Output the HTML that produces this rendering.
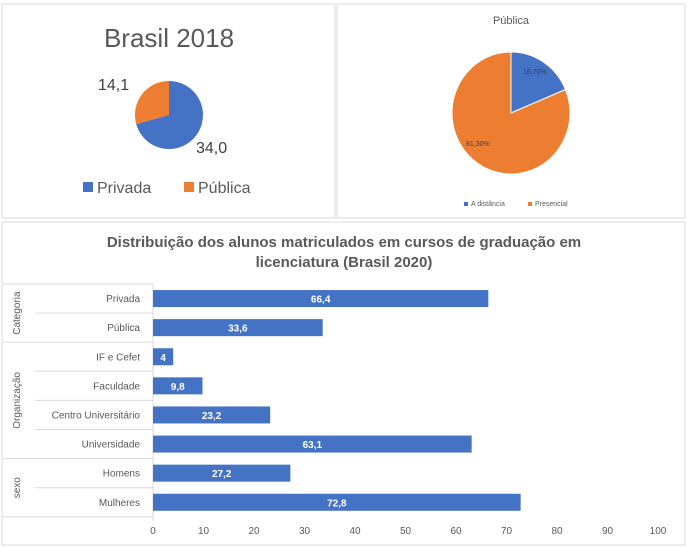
<!DOCTYPE html>
<html><head><meta charset="utf-8"><style>
body{margin:0;width:688px;height:547px;background:#fff;font-family:"Liberation Sans",sans-serif;overflow:hidden}
svg{position:absolute;left:0;top:0}
</style></head><body>
<svg width="688" height="547">
<rect x="2" y="4" width="333" height="214" fill="#fff" stroke="#d9d9d9"/>
<rect x="337" y="4" width="348" height="214" fill="#fff" stroke="#d9d9d9"/>
<rect x="2" y="222" width="683" height="323" fill="#fff" stroke="#d9d9d9"/>
<text x="169" y="47" font-size="26" fill="#595959" text-anchor="middle">Brasil 2018</text>
<g id="pie1"></g>
<text x="98" y="90" font-size="16" fill="#404040">14,1</text>
<text x="196" y="153" font-size="16" fill="#404040">34,0</text>
<rect x="83" y="182" width="10" height="10" fill="#4472c4"/>
<text x="97" y="193" font-size="16" fill="#595959">Privada</text>
<rect x="184" y="182" width="10" height="10" fill="#ed7d31"/>
<text x="198" y="193" font-size="16" fill="#595959">Pública</text>
<text x="511" y="24" font-size="11" fill="#595959" text-anchor="middle">Pública</text>
<g id="pie2"></g>
<text x="523" y="74" font-size="7" fill="#404040">18,70%</text>
<text x="466" y="146" font-size="7" fill="#404040">81,30%</text>
<rect x="464" y="202" width="4" height="4" fill="#4472c4"/>
<text x="471" y="206" font-size="7" fill="#595959">A distância</text>
<rect x="528" y="202" width="4" height="4" fill="#ed7d31"/>
<text x="535" y="206" font-size="7" fill="#595959">Presencial</text>
<text x="344" y="247" font-size="15" font-weight="bold" fill="#595959" text-anchor="middle">Distribuição dos alunos matriculados em cursos de graduação em</text>
<text x="344" y="267" font-size="15" font-weight="bold" fill="#595959" text-anchor="middle">licenciatura (Brasil 2020)</text>
<g id="bars"></g>
</svg>
<script>
const pie1Labels=["Privada","Pública"];
const pie1Values=[34.0,14.1];
const pie2Labels=["A distância","Presencial"];
const pie2Values=[18.7,81.3];
const categories=["Privada","Pública","IF e Cefet","Faculdade","Centro Universitário","Universidade","Homens","Mulheres"];
const values=[66.4,33.6,4,9.8,23.2,63.1,27.2,72.8];
const valueLabels=["66,4","33,6","4","9,8","23,2","63,1","27,2","72,8"];
const groups=["Categoria","Organização","sexo"];
const groupSizes=[2,4,2];
const ticks=[0,10,20,30,40,50,60,70,80,90,100];
const NS="http://www.w3.org/2000/svg";
function mk(tag,attrs,parent){const e=document.createElementNS(NS,tag);for(const k in attrs)e.setAttribute(k,attrs[k]);parent.appendChild(e);return e;}
function pie(g,cx,cy,rx,ry,vals,cols,names,stroke){
  const tot=vals.reduce((a,b)=>a+b,0);let a0=-Math.PI/2;
  vals.forEach((v,i)=>{const a1=a0+v/tot*2*Math.PI;
    const large=(a1-a0)>Math.PI?1:0;
    const d=`M${cx},${cy}L${cx+rx*Math.cos(a0)},${cy+ry*Math.sin(a0)}A${rx},${ry} 0 ${large} 1 ${cx+rx*Math.cos(a1)},${cy+ry*Math.sin(a1)}Z`;
    const p=mk('path',{d:d,fill:cols[i],stroke:stroke,'stroke-width':1},g);
    
    
    a0=a1;});
}
pie(document.getElementById('pie1'),169,115,34,34,pie1Values,["#4472c4","#ed7d31"],pie1Labels,"none");
pie(document.getElementById('pie2'),511,113,59,61,pie2Values,["#4472c4","#ed7d31"],pie2Labels,"#fff");
const g=document.getElementById('bars');
const x0=153,x1=658,top0=284,rowH=29.1;
const xs=v=>x0+(v/100)*(x1-x0);
const ys=i=>top0+i*rowH;
const bottom=ys(categories.length);
ticks.forEach(t=>{const tx=mk('text',{x:xs(t),y:534,'font-size':10,fill:'#595959','text-anchor':'middle'},g);tx.textContent=t;
  
  });
let idx=0;
mk('line',{x1:3,x2:x0,y1:ys(0),y2:ys(0),stroke:'#d9d9d9'},g);
groupSizes.forEach((n,gi)=>{
  for(let k=1;k<n;k++){mk('line',{x1:35,x2:x0,y1:ys(idx+k),y2:ys(idx+k),stroke:'#d9d9d9'},g);}
  const yc=(ys(idx)+ys(idx+n))/2;
  const t=mk('text',{x:20,y:yc,'font-size':10,fill:'#595959','text-anchor':'middle',transform:`rotate(-90 20 ${yc})`},g);
  t.textContent=groups[gi];
  
  
  idx+=n;
  mk('line',{x1:3,x2:x0,y1:ys(idx),y2:ys(idx),stroke:'#d9d9d9'},g);
});
mk('line',{x1:x0,x2:x0,y1:ys(0),y2:bottom+4,stroke:'#d9d9d9'},g);
categories.forEach((c,i)=>{
  const yc=ys(i)+rowH/2;
  const t=mk('text',{x:140,y:yc+3.5,'font-size':10,fill:'#595959','text-anchor':'end'},g);t.textContent=c;
  
  
  const b=mk('rect',{x:x0,y:yc-8.5,width:xs(values[i])-x0,height:17,fill:'#4472c4'},g);
  
  
  const l=mk('text',{x:(x0+xs(values[i]))/2,y:yc+4,'font-size':10,'font-weight':'bold',fill:'#fff','text-anchor':'middle'},g);l.textContent=valueLabels[i];
  
  
});
</script>
</body></html>
